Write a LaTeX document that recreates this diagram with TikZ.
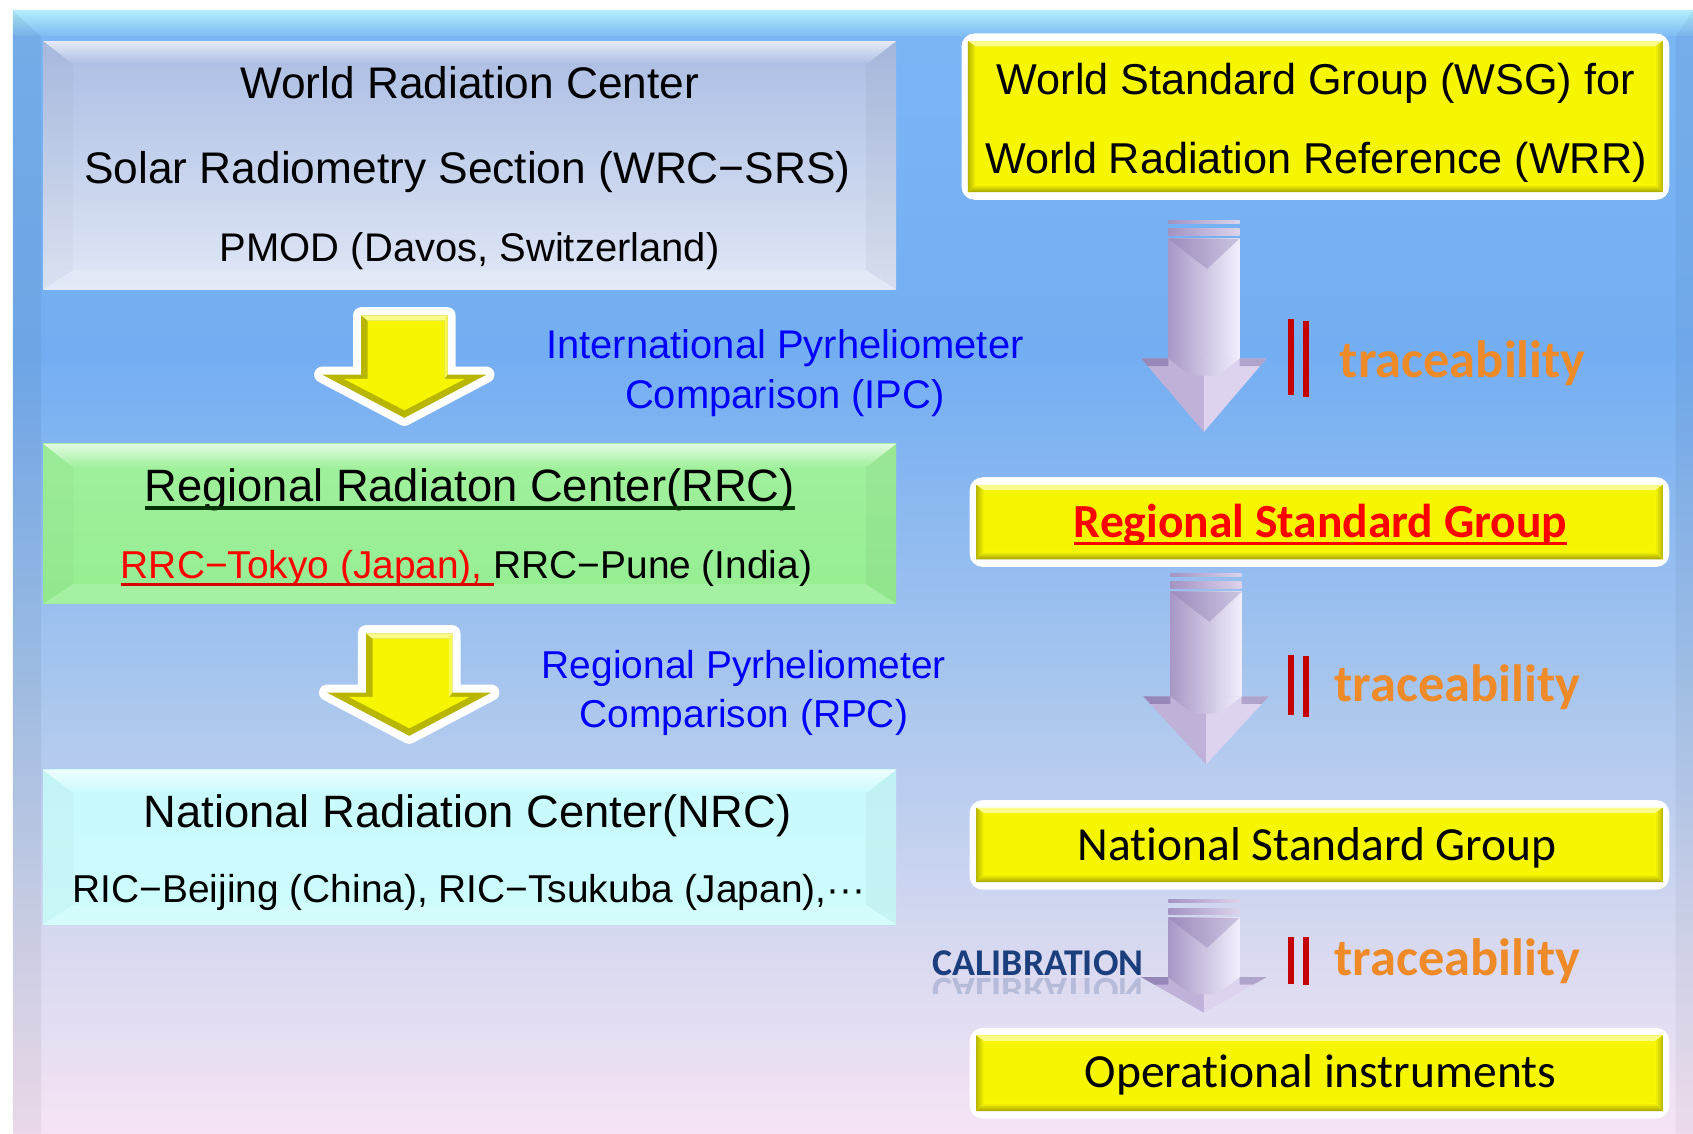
\documentclass[tikz,border=0pt]{standalone}
\usepackage{fontspec}
\setmainfont{Liberation Sans}
\newfontfamily\calib[Ligatures=NoCommon]{Carlito}
\newcommand\fsz[1]{\fontsize{#1pt}{#1pt}\selectfont}

\definecolor{bg1}{HTML}{B2ECFC}
\definecolor{bg2}{HTML}{7AB6F4}
\definecolor{bg3}{HTML}{74AEF2}
\definecolor{bg4}{HTML}{A8C6EE}
\definecolor{bg5}{HTML}{D4D8F0}
\definecolor{bg6}{HTML}{F6E4F4}
\definecolor{wrcT}{HTML}{ABBDE3}
\definecolor{wrcB}{HTML}{E0E7F6}
\definecolor{grT}{HTML}{A0F09C}
\definecolor{grB}{HTML}{96EE92}
\definecolor{cyT}{HTML}{C8FAFC}
\definecolor{cyB}{HTML}{CEFCFD}
\definecolor{yel}{HTML}{F6F600}
\definecolor{yelL}{HTML}{FBFB8C}
\definecolor{yolv}{HTML}{B8B600}
\definecolor{yolvD}{HTML}{A4A200}
\definecolor{lavA}{HTML}{A797C5}
\definecolor{lavB}{HTML}{C3B6DB}
\definecolor{lavC}{HTML}{F3EEFD}
\definecolor{lavD}{HTML}{8676AB}
\definecolor{lavL}{HTML}{C0B1D8}
\definecolor{lavR}{HTML}{DED3EF}
\definecolor{lavS1}{HTML}{A293C2}
\definecolor{lavS2}{HTML}{DCD3EC}
\definecolor{barred}{HTML}{C40000}
\definecolor{trorange}{HTML}{EE8A28}
\definecolor{calblue}{HTML}{1B3E7C}

% beveled box: x1,y1,x2,y2,top colour,bottom colour
\newcommand\bevbox[6]{%
  \shade[top color=#5, bottom color=#6] (#1,#2) rectangle (#3,#4);
  \shade[top color=white!70!#5, bottom color=#5] (#1,#2) -- (#3,#2) -- ({#3-28},{#2+22}) -- ({#1+28},{#2+22}) -- cycle;
  \fill[black, opacity=.025] (#1,#2) -- ({#1+28},{#2+22}) -- ({#1+28},{#4-18}) -- (#1,#4) -- cycle;
  \fill[black, opacity=.035] (#3,#2) -- ({#3-28},{#2+22}) -- ({#3-28},{#4-18}) -- (#3,#4) -- cycle;
  \fill[white, opacity=.15] (#1,#4) -- ({#1+28},{#4-18}) -- ({#3-28},{#4-18}) -- (#3,#4) -- cycle;
}
% yellow box with white frame: outer x1,y1,x2,y2
\newcommand\ybox[4]{%
  \fill[white, rounded corners=6] (#1,#2) rectangle (#3,#4);
  \pgfmathsetmacro\yAx{#1+6}\pgfmathsetmacro\yAy{#2+7}%
  \pgfmathsetmacro\yBx{#3-6}\pgfmathsetmacro\yBy{#4-7}%
  \fill[yel] (\yAx,\yAy) rectangle (\yBx,\yBy);
  \fill[yelL] (\yAx,\yAy) -- (\yBx,\yAy) -- ({\yBx-7},{\yAy+5}) -- ({\yAx+7},{\yAy+5}) -- cycle;
  \shade[top color=yel, bottom color=yolvD] ({\yAx+7},{\yBy-7}) -- ({\yBx-7},{\yBy-7}) -- (\yBx,\yBy) -- (\yAx,\yBy) -- cycle;
  \shade[left color=yolv, right color=yel] (\yAx,\yAy) -- ({\yAx+7},{\yAy+5}) -- ({\yAx+7},{\yBy-7}) -- (\yAx,\yBy) -- cycle;
  \shade[left color=yel, right color=yolv] (\yBx,\yAy) -- ({\yBx-7},{\yAy+5}) -- ({\yBx-7},{\yBy-7}) -- (\yBx,\yBy) -- cycle;
}
% yellow block arrow: centre x, inner top y
\newcommand\yarrow[2]{%
  \filldraw[white, line width=7.5pt, line join=round] ({#1-40},{#2}) -- ({#1+40},{#2}) -- ({#1+40},{#2+55}) -- ({#1+76},{#2+55}) -- ({#1},{#2+95}) -- ({#1-76},{#2+55}) -- ({#1-40},{#2+55}) -- cycle;
  \fill[yolv] ({#1-40},{#2}) -- ({#1+40},{#2}) -- ({#1+40},{#2+55}) -- ({#1+76},{#2+55}) -- ({#1},{#2+95}) -- ({#1-76},{#2+55}) -- ({#1-40},{#2+55}) -- cycle;
  \fill[yel] ({#1-34},{#2+5}) -- ({#1+37},{#2+5}) -- ({#1+37},{#2+59}) -- ({#1+56},{#2+59}) -- ({#1},{#2+88}) -- ({#1-56},{#2+59}) -- ({#1-34},{#2+59}) -- cycle;
  \fill[yelL] ({#1-40},{#2}) -- ({#1+40},{#2}) -- ({#1+37},{#2+5}) -- ({#1-34},{#2+5}) -- cycle;
  \fill[yelL!60!yel] ({#1+40},{#2}) -- ({#1+37},{#2+5}) -- ({#1+37},{#2+59}) -- ({#1+40},{#2+55}) -- cycle;
}
% lavender block arrow: centre x, top y, head base y, tip y
\newcommand\larrow[4]{%
  \shade[left color=lavS1, right color=lavS2] ({#1-33},{#2}) rectangle ({#1+33},{#2+3});
  \shade[left color=lavS1, right color=lavS2] ({#1-33},{#2+8}) rectangle ({#1+33},{#2+14});
  \shade[left color=lavA, middle color=lavB, right color=lavC] ({#1-33},{#2+17}) rectangle ({#1+33},{#3+1});
  \fill[lavD, opacity=.35] ({#1-33},{#2+17}) -- ({#1+33},{#2+17}) -- ({#1+3},{#2+45}) -- cycle;
  \fill[lavL] ({#1-58},{#3}) -- ({#1},{#3}) -- ({#1},{#4}) -- cycle;
  \fill[lavR] ({#1+58},{#3}) -- ({#1},{#3}) -- ({#1},{#4}) -- cycle;
  \shade[left color=lavA, middle color=lavB, right color=lavC] ({#1-33},{#3}) -- ({#1+33},{#3}) -- ({#1+12},{#3+16}) -- ({#1-12},{#3+16}) -- cycle;
  \fill[lavD, opacity=.7] ({#1-58},{#3}) -- ({#1-33},{#3}) -- ({#1-33},{#3+7}) -- ({#1-58+58*7/(#4-#3)},{#3+7}) -- cycle;
  \fill[lavD, opacity=.5] ({#1+58},{#3}) -- ({#1+33},{#3}) -- ({#1+33},{#3+7}) -- ({#1+58-58*7/(#4-#3)},{#3+7}) -- cycle;
}

\begin{document}
\begin{tikzpicture}[x=0.5pt, y=-0.5pt,
  txt/.style={inner sep=0pt, outer sep=0pt, anchor=base},
  goth/.style={txt, text=black},
  bluetxt/.style={txt, text=blue, font=\fsz{18.5}},
  calb/.style={txt, font=\calib\fsz{22}},
  trace/.style={txt, anchor=base west, text=trorange, font=\calib\bfseries\fsz{24.3}},
  bar/.style={fill=barred},
]
\useasboundingbox (0,0) rectangle (1568,1050);
\fill[white] (0,0) rectangle (1568,1050);

% ---------- background panel ----------
\shade[top color=bg1, bottom color=bg2] (12,10) rectangle (1568,35);
\shade[top color=bg2, bottom color=bg3] (12,34) rectangle (1568,330);
\shade[top color=bg3, bottom color=bg4] (12,329) rectangle (1568,640);
\shade[top color=bg4, bottom color=bg5] (12,639) rectangle (1568,860);
\shade[top color=bg5, bottom color=bg6] (12,859) rectangle (1568,1050);
\fill[black, opacity=.05] (12,10) -- (38,34) -- (38,1050) -- (12,1050) -- cycle;
\fill[black, opacity=.04] (1568,10) -- (1552,34) -- (1552,1050) -- (1568,1050) -- cycle;

% ---------- left column ----------
\bevbox{40}{38}{830}{268}{wrcT}{wrcB}
\node[goth, font=\fsz{20.5}] (wrc1) at (435,91) {World Radiation Center};
\node[goth, font=\fsz{20.5}] (wrc2) at (433,170) {Solar Radiometry Section (WRC−SRS)};
\node[goth, font=\fsz{18.5}] (wrc3) at (435,242) {PMOD (Davos, Switzerland)};

\yarrow{374.5}{292}
\node[bluetxt] (ipc1) at (727,332) {International Pyrheliometer};
\node[bluetxt] (ipc2) at (727,378) {Comparison (IPC)};

\bevbox{40}{411}{830}{559}{grT}{grB}
\node[goth, font=\fsz{21}] (rrc) at (435,464.5) {Regional Radiaton Center(RRC)};
\draw[line width=1.5pt, black!80!green] ([yshift=-3pt]rrc.base west) -- ([yshift=-3pt]rrc.base east);
\node[txt, anchor=base west, text=red, font=\fsz{18}] (tokyo) at (112,535.5) {RRC−Tokyo (Japan),};
\node[txt, anchor=base west, text=black, font=\fsz{18}] (pune) at ([xshift=5pt]tokyo.base east) {RRC−Pune (India)};
\draw[line width=1.2pt, red!85!black] ([yshift=-3pt]tokyo.base west) -- ([yshift=-3pt]pune.base west);

\yarrow{379}{586.5}
\node[bluetxt, font=\fsz{18}] (rpc1) at (689,628) {Regional Pyrheliometer};
\node[bluetxt, font=\fsz{18}] (rpc2) at (689,674) {Comparison (RPC)};

\bevbox{40}{713}{830}{856}{cyT}{cyB}
\node[goth, font=\fsz{21}] (nrc) at (433,766) {National Radiation Center(NRC)};
\node[goth, font=\fsz{18}] (ric) at (434.5,836) {RIC−Beijing (China), RIC−Tsukuba (Japan),···};

% ---------- right column ----------
\ybox{890.5}{31}{1546}{185}
\node[goth, font=\fsz{20}] (wsg1) at (1218.6,87.4) {World Standard Group (WSG) for};
\node[goth, font=\fsz{20}] (wsg2) at (1218.7,160.5) {World Radiation Reference (WRR)};

\larrow{1115}{204}{332}{400}
\fill[bar] (1193,295) rectangle (1198,366);
\fill[bar] (1206.5,297) rectangle (1212,368);
\node[trace] (tr1) at (1241,349.4) {traceability};

\ybox{898}{442}{1546}{525}
\node[calb, text=red, font=\calib\bfseries\fsz{22}] (rsg) at (1223,497.6) {Regional Standard Group};
\draw[line width=1.4pt, red] ([yshift=-3pt]rsg.base west) -- ([yshift=-3pt]rsg.base east);

\larrow{1117}{531}{645}{708}
\fill[bar] (1193,606.5) rectangle (1198,662);
\fill[bar] (1206.5,608) rectangle (1212,664);
\node[trace] (tr2) at (1236,649.8) {traceability};

\ybox{898}{741}{1546}{824}
\node[calb] (nsg) at (1220,797) {National Standard Group};

\larrow{1115}{833}{905}{938}
\fill[bar] (1193,868) rectangle (1198,911);
\fill[bar] (1206.5,868) rectangle (1212,912);
\node[trace] (tr3) at (1236,903) {traceability};

\node[txt, anchor=base west, text=calblue, font=\calib\bfseries\fsz{17.5}] (cal) at (864,903.8) {CALIBRATION};
\begin{scope}
  \clip (855,905) rectangle (1056,920);
  \begin{scope}[shift={(864,906)}, yscale=-1]
    \node[txt, anchor=base west, text=calblue, opacity=.2, transform shape, font=\calib\bfseries\fsz{17.5}] (calref) at (0,0) {CALIBRATION};
  \end{scope}
\end{scope}

\ybox{898}{952}{1546}{1036}
\node[calb] (oi) at (1223,1007) {Operational instruments};
\end{tikzpicture}
\end{document}
